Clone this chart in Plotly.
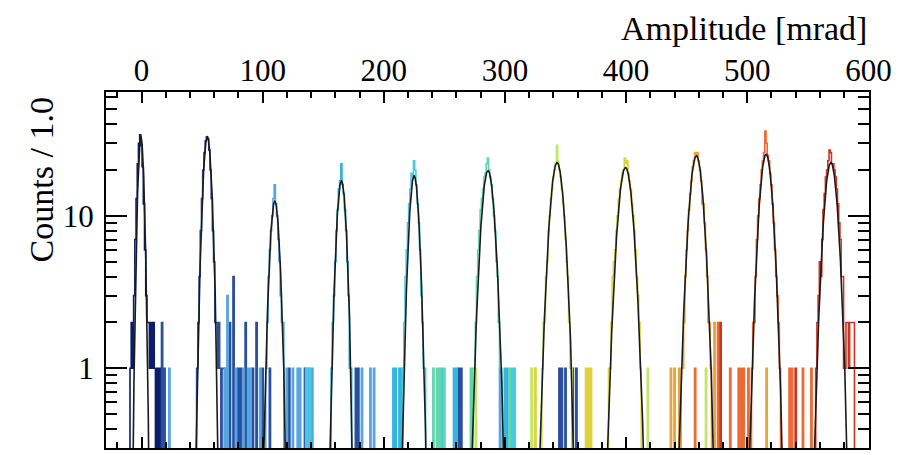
import numpy as np
import plotly.graph_objects as go

# ---------------- data ----------------
# fit parameters of the 11 Gaussian peaks (mean [mrad], sigma [mrad], amplitude [counts])
fit_mean = [-0.5, 54.3, 110.0, 165.0, 225.0, 286.0, 343.0, 399.5, 458.0, 515.5, 569.0]
fit_sigma = [2.1, 3.0, 3.3, 3.3, 3.4, 4.5, 4.8, 5.1, 4.8, 4.5, 4.6]
fit_amp = [33.0, 33.0, 12.5, 17.0, 18.3, 19.8, 22.4, 20.8, 24.8, 25.4, 22.4]

hist_colors = ["#0c1c6c", "#2b4f9f", "#56a4e0", "#35b6de", "#48c9e2", "#5fd6ac",
               "#c2e666", "#dcd33e", "#e8a33d", "#ee6934", "#cc3520"]

# first bin of the peak core of each histogram and its bin contents (bin width 1 mrad)
core_start = [-9, 46, 103, 157, 216, 275, 331, 386, 446, 504, 557]
core_counts = [
    [1, 2, 1, 3, 7, 13, 22, 30, 34, 29, 21, 12, 6, 3, 2, 2, 1, 2, 1, 2, 1],
    [1, 2, 4, 8, 13, 20, 26, 31, 33, 32, 27, 20, 13, 8, 5, 2, 2, 1],
    [1, 2, 4, 6, 8, 10, 13, 16, 12, 10, 7, 5, 3, 2, 2],
    [1, 2, 3, 5, 8, 11, 15, 17, 22, 16, 14, 11, 8, 5, 3, 1, 1],
    [1, 2, 3, 6, 9, 12, 15, 19, 18, 23, 20, 16, 12, 9, 6, 3, 2, 1, 1],
    [1, 2, 4, 6, 8, 11, 13, 15, 18, 19, 22, 24, 20, 18, 16, 13, 10, 8, 5, 4, 2, 1, 1],
    [1, 2, 2, 4, 5, 8, 10, 13, 15, 18, 20, 22, 29, 23, 20, 18, 15, 12, 10, 7, 5, 4, 2, 1, 1],
    [1, 1, 2, 3, 4, 6, 8, 10, 13, 15, 17, 19, 20, 24, 22, 23, 19, 17, 15, 12, 10, 8, 6, 4, 3, 2, 1],
    [1, 1, 2, 4, 6, 8, 11, 14, 17, 21, 23, 26, 25, 26, 23, 20, 17, 12, 12, 9, 6, 4, 2, 2, 1],
    [1, 2, 2, 4, 7, 10, 13, 16, 20, 23, 26, 36, 30, 25, 23, 19, 16, 12, 9, 6, 4, 3, 2, 1],
    [1, 2, 3, 5, 4, 7, 11, 14, 18, 20, 23, 27, 26, 22, 22, 20, 18, 15, 12, 9, 7, 4, 4, 1, 1, 2, 2, 1, 2, 2, 2, 2],
]

# isolated low-count entries outside the peak cores (bin, count)
noise_bins = [
    [13, 15],
    [17, 19, 64, 65, 67, 68, 73, 76, 80, 82, 86, 92, 95, 100, 106, 122, 135, 177, 179, 262, 264, 345, 347, 350, 356, 359],
    [23, 69, 71, 78, 84, 88, 90, 98, 120, 125, 129, 131, 138, 141, 182, 189, 192, 296],
    [208, 210, 213, 215, 258, 260, 300, 302],
    [136, 139, 218, 248, 306, 308],
    [241, 244, 246, 250, 272, 274, 304],
    [276, 322, 325, 418, 466],
    [367, 369, 371, 389, 390, 325],
    [437, 440, 444, 473, 516],
    [457, 476, 486, 493, 495, 497, 501, 535, 537, 546, 553],
    [478, 540],
]
noise_counts = [
    [1, 1],
    [2, 1, 2, 1, 1, 1, 2, 4, 1, 1, 2, 1, 2, 1, 1, 1, 1, 1, 1, 1, 1, 1, 1, 1, 1, 1],
    [1, 1, 3, 1, 1, 1, 1, 1, 1, 1, 1, 1, 1, 1, 1, 1, 1, 1],
    [1, 1, 1, 1, 1, 1, 1, 1],
    [1, 1, 1, 1, 1, 1],
    [1, 1, 1, 1, 1, 1, 1],
    [1, 1, 1, 1, 1],
    [1, 1, 1, 1, 1, 1],
    [1, 1, 1, 2, 1],
    [1, 2, 1, 1, 1, 1, 1, 1, 1, 1, 1],
    [2, 1],
]

y_major = [1, 10]
y_minor = [0.3, 0.4, 0.5, 0.6, 0.7, 0.8, 0.9, 2, 3, 4, 5, 6, 7, 8, 9, 20, 30, 40, 50, 60]

x_lo, x_hi = -30, 601

# ---------------- figure ----------------
fig = go.Figure()
edges = np.arange(x_lo, x_hi + 1)
for i in range(len(core_start)):
    counts = np.zeros(len(edges) - 1)
    for k, c in enumerate(core_counts[i]):
        counts[core_start[i] + k - x_lo] += c
    for b, c in zip(noise_bins[i], noise_counts[i]):
        counts[b - x_lo] += c
    y = np.where(counts > 0, counts, 1e-3)
    y = np.append(y, y[-1])
    fig.add_trace(go.Scatter(x=edges - 0.5, y=y, mode="lines", line_shape="hv",
                             line=dict(color=hist_colors[i], width=1.6),
                             showlegend=False, hoverinfo="skip"))

for m, s, a in zip(fit_mean, fit_sigma, fit_amp):
    xf = np.linspace(m - 4.5 * s, m + 4.5 * s, 200)
    yf = a * np.exp(-0.5 * ((xf - m) / s) ** 2)
    fig.add_trace(go.Scatter(x=xf, y=yf, mode="lines",
                             line=dict(color="#1a1a1a", width=1.6),
                             showlegend=False, hoverinfo="skip"))

# dummy trace to carry the minor-tick axis
fig.add_trace(go.Scatter(x=[0], y=[1], yaxis="y2", mode="markers",
                         marker=dict(opacity=0), showlegend=False, hoverinfo="skip"))

font = dict(family="Liberation Serif", size=31, color="black")
title_font = dict(family="Liberation Serif", size=34, color="black")
yr = [np.log10(0.3), np.log10(65)]

fig.update_layout(
    width=918, height=455,
    margin=dict(l=106, r=49, t=92, b=5),
    paper_bgcolor="white", plot_bgcolor="white",
    font=font,
    xaxis=dict(range=[-29.3, 600.5], side="top", showgrid=False, zeroline=False,
               showline=True, linecolor="black", linewidth=2, mirror="ticks",
               ticks="inside", ticklen=11, tickwidth=2, tickcolor="black",
               dtick=100, tick0=0, tickfont=font, ticklabelstandoff=-3,
               minor=dict(dtick=20, tick0=0, ticks="inside", ticklen=6,
                          tickwidth=1.5, tickcolor="black", showgrid=False)),
    yaxis=dict(type="log", range=yr, showgrid=False, zeroline=False,
               showline=True, linecolor="black", linewidth=2, mirror="ticks",
               ticks="inside", ticklen=21, tickwidth=2, tickcolor="black",
               tickvals=y_major, ticktext=[str(v) for v in y_major], tickfont=font,
               ticklabelstandoff=4),
    yaxis2=dict(type="log", range=yr, overlaying="y", side="left", showgrid=False,
                zeroline=False, showline=True, linecolor="black", linewidth=2,
                mirror="ticks", ticks="inside", ticklen=11, tickwidth=1.5,
                tickcolor="black", tickvals=y_minor, showticklabels=False),
    annotations=[
        dict(text="Amplitude [mrad]", xref="paper", yref="paper", x=1.0, y=1.1788,
             xanchor="right", yanchor="middle", showarrow=False, font=title_font),
        dict(text="Counts / 1.0", xref="paper", yref="paper", x=-0.084, y=0.9916,
             xanchor="center", yanchor="top", textangle=-90, showarrow=False, font=title_font),
    ],
)

fig.write_html("out.html")
